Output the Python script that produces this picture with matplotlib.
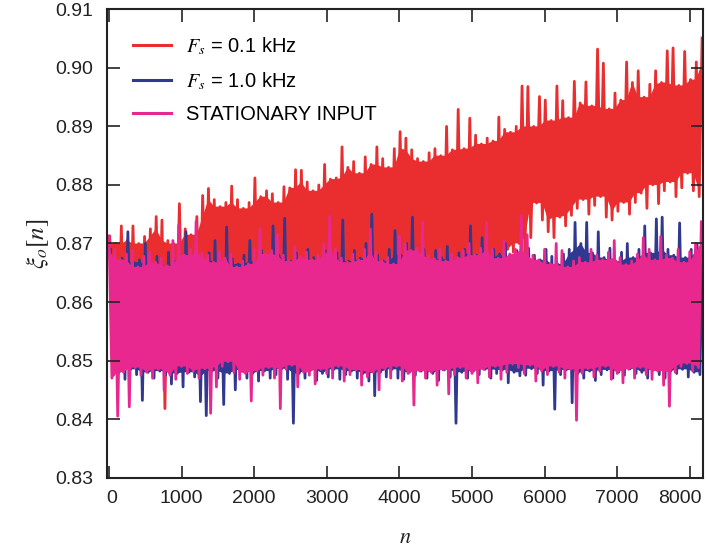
import numpy as np
import matplotlib
matplotlib.use("Agg")
import matplotlib.pyplot as plt
from matplotlib.transforms import ScaledTranslation

plt.rcParams['font.family'] = ['Liberation Sans', 'DejaVu Sans']
plt.rcParams['mathtext.fontset'] = 'stix'
plt.rcParams['path.simplify'] = False

# Sample spacing of the read-off envelope points (samples)
step = 40

# Values in units of 1e-4 (e.g. 8713 -> 0.8713); "hi" = upper excursions, "lo" = lower excursions
red_hi = [8712, 8700, 8730, 8705, 8730, 8700, 8712, 8725, 8746, 8740,
          8705, 8700, 8768, 8725, 8715, 8746, 8782, 8794, 8775, 8763,
          8770, 8798, 8775, 8760, 8770, 8812, 8780, 8790, 8785, 8770,
          8797, 8795, 8826, 8825, 8805, 8790, 8800, 8835, 8810, 8812,
          8865, 8830, 8840, 8820, 8848, 8835, 8865, 8845, 8830, 8862,
          8891, 8880, 8860, 8845, 8840, 8855, 8862, 8850, 8900, 8860,
          8929, 8862, 8914, 8885, 8870, 8880, 8875, 8916, 8895, 8890,
          8900, 8969, 8968, 8900, 8951, 8945, 8910, 8969, 8944, 8915,
          8977, 8940, 8976, 8935, 9032, 9008, 8930, 8957, 8945, 9010,
          8975, 8995, 8950, 8972, 8995, 8975, 9029, 9034, 8970, 9028,
          8980, 9010, 9051]
red_lo = [8540, 8520, 8535, 8510, 8545, 8530, 8550, 8525, 8540, 8418,
          8545, 8560, 8535, 8555, 8570, 8545, 8575, 8560, 8580, 8550,
          8585, 8565, 8580, 8570, 8595, 8575, 8590, 8580, 8605, 8585,
          8600, 8590, 8615, 8595, 8610, 8600, 8625, 8605, 8620, 8610,
          8635, 8615, 8630, 8620, 8645, 8625, 8640, 8630, 8650, 8635,
          8655, 8640, 8660, 8645, 8650, 8640, 8660, 8650, 8665, 8645,
          8660, 8650, 8665, 8655, 8668, 8650, 8665, 8660, 8690, 8685,
          8700, 8680, 8710, 8769, 8740, 8720, 8710, 8745, 8730, 8748,
          8760, 8775, 8750, 8765, 8780, 8745, 8740, 8755, 8770, 8750,
          8770, 8786, 8760, 8800, 8768, 8790, 8805, 8780, 8795, 8820,
          8790, 8780]

blue_hi = [8690, 8660, 8675, 8720, 8668, 8672, 8700, 8665, 8678, 8660,
           8685, 8670, 8676, 8720, 8680, 8665, 8672, 8684, 8705, 8668,
           8728, 8674, 8665, 8680, 8705, 8670, 8688, 8676, 8730, 8680,
           8743, 8670, 8684, 8668, 8690, 8676, 8665, 8688, 8672, 8684,
           8740, 8670, 8688, 8675, 8700, 8750, 8680, 8670, 8690, 8722,
           8680, 8700, 8745, 8678, 8690, 8672, 8688, 8676, 8695, 8670,
           8684, 8690, 8730, 8680, 8710, 8676, 8690, 8682, 8700, 8675,
           8688, 8670, 8692, 8680, 8672, 8690, 8678, 8665, 8682, 8690,
           8736, 8700, 8736, 8684, 8720, 8676, 8692, 8670, 8685, 8700,
           8676, 8690, 8730, 8684, 8742, 8745, 8690, 8680, 8735, 8676,
           8690, 8700, 8720]
blue_lo = [8475, 8480, 8468, 8485, 8476, 8432, 8480, 8470, 8482, 8475,
           8460, 8478, 8455, 8480, 8472, 8430, 8406, 8482, 8470, 8425,
           8478, 8450, 8484, 8470, 8478, 8465, 8482, 8470, 8476, 8486,
           8468, 8393, 8478, 8470, 8484, 8466, 8478, 8472, 8485, 8468,
           8476, 8482, 8470, 8478, 8465, 8440, 8480, 8472, 8485, 8470,
           8468, 8480, 8475, 8482, 8470, 8478, 8466, 8484, 8472, 8393,
           8480, 8470, 8482, 8476, 8485, 8470, 8478, 8484, 8462, 8480,
           8474, 8475, 8486, 8478, 8458, 8482, 8417, 8476, 8484, 8428,
           8478, 8470, 8482, 8466, 8476, 8484, 8470, 8480, 8475, 8486,
           8478, 8480, 8470, 8484, 8476, 8470, 8482, 8478, 8485, 8472,
           8480, 8476]

mag_hi = [8713, 8690, 8672, 8682, 8688, 8660, 8678, 8685, 8668, 8675,
          8662, 8705, 8731, 8680, 8690, 8738, 8684, 8680, 8668, 8686,
          8675, 8682, 8660, 8670, 8665, 8690, 8725, 8682, 8688, 8715,
          8680, 8670, 8695, 8678, 8685, 8672, 8680, 8700, 8746, 8690,
          8675, 8668, 8682, 8672, 8690, 8725, 8685, 8670, 8676, 8665,
          8712, 8700, 8688, 8692, 8737, 8680, 8674, 8690, 8670, 8682,
          8676, 8688, 8700, 8680, 8692, 8736, 8690, 8675, 8705, 8682,
          8690, 8748, 8715, 8680, 8672, 8690, 8665, 8700, 8688, 8660,
          8670, 8676, 8668, 8690, 8680, 8672, 8685, 8705, 8676, 8664,
          8670, 8682, 8710, 8690, 8672, 8712, 8680, 8675, 8690, 8668,
          8686, 8700, 8737]
mag_lo = [8470, 8405, 8480, 8421, 8488, 8475, 8480, 8470, 8485, 8449,
          8475, 8468, 8490, 8478, 8482, 8470, 8486, 8410, 8455, 8490,
          8498, 8480, 8468, 8478, 8431, 8482, 8475, 8488, 8470, 8418,
          8485, 8492, 8455, 8480, 8475, 8460, 8485, 8478, 8470, 8490,
          8465, 8476, 8484, 8458, 8472, 8480, 8450, 8486, 8470, 8490,
          8465, 8478, 8424, 8482, 8470, 8480, 8458, 8484, 8443, 8476,
          8488, 8470, 8478, 8462, 8485, 8472, 8490, 8468, 8480, 8494,
          8488, 8478, 8492, 8465, 8482, 8476, 8490, 8480, 8470, 8485,
          8398, 8478, 8486, 8472, 8482, 8490, 8468, 8478, 8462, 8485,
          8470, 8488, 8476, 8468, 8482, 8458, 8422, 8480, 8490, 8495,
          8482, 8488]

labels = [r'$F_s$ = 0.1 kHz', r'$F_s$ = 1.0 kHz', 'STATIONARY INPUT']
colors = ['#EA2E2F', '#30398F', '#E8288E']
offsets = [10, 20, 0]

xticks = [0, 1000, 2000, 3000, 4000, 5000, 6000, 7000, 8000]
yticks = [0.83, 0.84, 0.85, 0.86, 0.87, 0.88, 0.89, 0.90, 0.91]


def series(hi, lo, offset):
    hi = np.asarray(hi) / 1e4
    lo = np.asarray(lo) / 1e4
    y = np.empty(len(hi) + len(lo))
    y[0::2] = hi
    y[1::2] = lo
    n = np.arange(len(y)) * step + offset
    # dense-noise core: up to the lower of neighbouring excursions
    hp = np.pad(hi, 1, mode='edge')
    lp = np.pad(lo, 1, mode='edge')
    core_top = np.minimum(np.minimum(hp[:-2], hp[1:-1]), hp[2:])
    core_bot = np.maximum(np.maximum(lp[:-2], lp[1:-1]), lp[2:])
    return n, y, n[0::2], core_top, n[1::2], core_bot


fig = plt.figure(figsize=(7.07, 5.5), dpi=100)
ax = fig.add_axes([0.1513, 0.1315, 0.843, 0.8516])

data = [(red_hi, red_lo), (blue_hi, blue_lo), (mag_hi, mag_lo)]
for i, ((hi, lo), lab, c, off) in enumerate(zip(data, labels, colors, offsets)):
    n, y, nh, ct, nl, cb = series(hi, lo, off)
    z = 2.0 + 0.1 * i
    ax.fill(np.r_[nh, nl[::-1]], np.r_[ct, cb[::-1]], color=c, lw=0, zorder=z)
    ax.plot(n, y, color=c, lw=2.0, label=lab, zorder=z + 0.05)

ax.set_xlim(-28, 8182)
ax.set_ylim(0.83, 0.91)
ax.set_xticks(xticks)
ax.set_yticks(yticks)
ax.set_yticklabels([f'{v:.2f}' for v in yticks])
ax.set_axisbelow(False)
ax.tick_params(axis='both', which='both', direction='in', length=9, width=1.2,
               colors='#222222', labelcolor='#222222', labelsize=14,
               top=True, right=True)
ax.tick_params(axis='y', pad=10)
ax.tick_params(axis='x', pad=9)
for s in ax.spines.values():
    s.set_linewidth(1.5)
    s.set_color('#222222')
    s.set_zorder(3)

# nudge first and last x tick labels as in the reference
xtl = ax.get_xticklabels()
xtl[0].set_transform(xtl[0].get_transform() + ScaledTranslation(3 / 100, 0, fig.dpi_scale_trans))
xtl[-1].set_transform(xtl[-1].get_transform() + ScaledTranslation(-10 / 100, 0, fig.dpi_scale_trans))

ax.set_xlabel(r'$n$', fontsize=16, labelpad=14, color='#222222')
ax.set_ylabel(r'$\xi_o[n]$', fontsize=18, labelpad=3, color='#222222')

leg = ax.legend(loc='upper left', bbox_to_anchor=(0.044, 0.945), frameon=False,
                fontsize=14.5, handlelength=1.9, handletextpad=0.7,
                labelspacing=0.65, borderpad=0, borderaxespad=0)
leg.set_zorder(5)
for h in leg.get_lines():
    h.set_linewidth(2.2)

fig.savefig('out.png', dpi=100)
